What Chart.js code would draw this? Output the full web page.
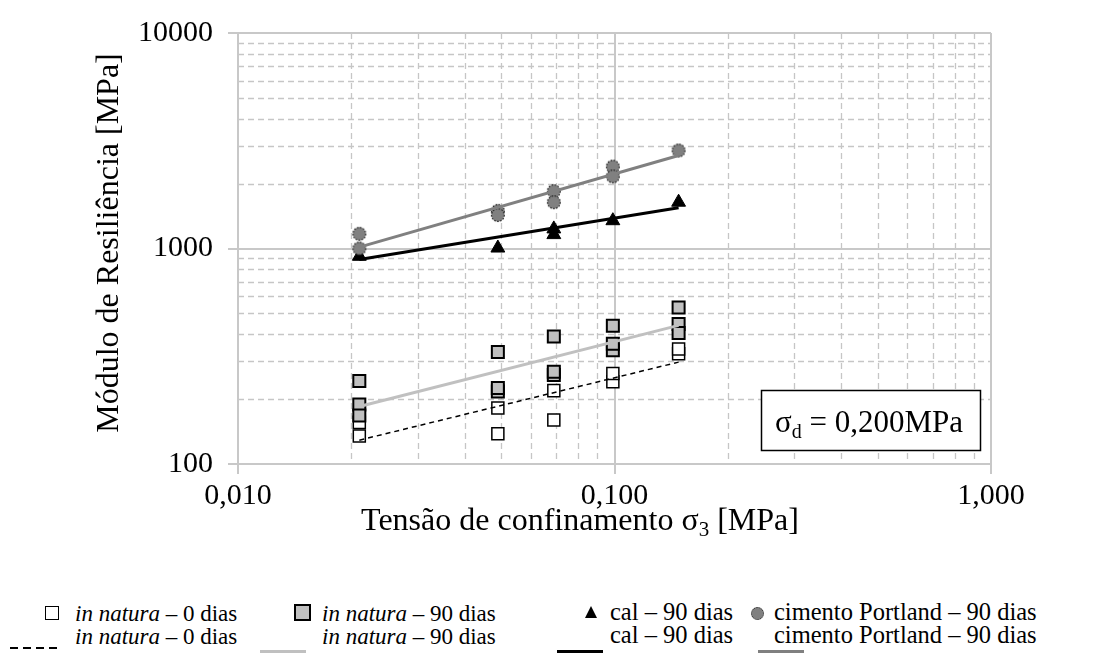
<!DOCTYPE html>
<html><head><meta charset="utf-8">
<script src="https://cdn.jsdelivr.net/npm/chart.js@4.4.0/dist/chart.umd.min.js"></script>
<style>
html,body{margin:0;padding:0;background:#fff;}
#wrap{position:relative;width:1106px;height:653px;overflow:hidden;font-family:"Liberation Serif","Times New Roman",serif;background:#fff;}
#c{position:absolute;left:0;top:0;}
.lt{position:absolute;font-size:23px;line-height:23px;white-space:nowrap;color:#000;}
.lt2{position:absolute;font-size:24.5px;line-height:24.5px;white-space:nowrap;color:#000;}
.mk{position:absolute;box-sizing:border-box;}
</style></head>
<body>
<div id="wrap">
<canvas id="c" width="1106" height="580"></canvas>
<!-- legend row 1 -->
<div class="mk" style="left:45px;top:606px;width:14px;height:14px;border:1.5px solid #000;background:#fff;"></div>
<div class="lt" style="left:75px;top:602px;"><i>in natura</i> – 0 dias</div>
<div class="mk" style="left:294px;top:604px;width:17px;height:17px;border:2px solid #000;background:#c0c0c0;"></div>
<div class="lt" style="left:322px;top:602px;"><i>in natura</i> – 90 dias</div>
<div class="mk" style="left:585px;top:606px;width:0;height:0;border-left:6.5px solid transparent;border-right:6.5px solid transparent;border-bottom:12px solid #000;"></div>
<div class="lt2" style="left:610px;top:600px;">cal – 90 dias</div>
<div class="mk" style="left:751px;top:607px;width:13px;height:13px;border-radius:50%;border:1px dotted #222;background:#808080;"></div>
<div class="lt2" style="left:774px;top:600px;">cimento Portland – 90 dias</div>
<!-- legend row 2 -->
<div class="mk" style="left:10px;top:647px;width:49px;height:1.5px;background:repeating-linear-gradient(to right,#000 0 8px,transparent 8px 13px);"></div>
<div class="lt" style="left:75px;top:625px;"><i>in natura</i> – 0 dias</div>
<div class="mk" style="left:260px;top:650px;width:46px;height:6px;background:#c0c0c0;"></div>
<div class="lt" style="left:322px;top:625px;"><i>in natura</i> – 90 dias</div>
<div class="mk" style="left:557px;top:650px;width:46px;height:6px;background:#000;"></div>
<div class="lt2" style="left:610px;top:623px;">cal – 90 dias</div>
<div class="mk" style="left:758px;top:650px;width:46px;height:6px;background:#808080;"></div>
<div class="lt2" style="left:774px;top:623px;">cimento Portland – 90 dias</div>
</div>
<script>
// ---- data ----
const natura0X = [0.021, 0.021, 0.049, 0.049, 0.069, 0.069, 0.099, 0.099, 0.148, 0.148];
const natura0Y = [135, 156, 138, 182, 160, 219, 241, 263, 325, 342];

const natura90X = [0.021, 0.021, 0.021, 0.049, 0.049, 0.049, 0.069, 0.069, 0.069, 0.099, 0.099, 0.099, 0.148, 0.148, 0.148];
const natura90Y = [243, 189, 168, 331, 217, 225, 391, 259, 268, 438, 337, 361, 533, 446, 405];

const calX = [0.021, 0.049, 0.069, 0.069, 0.099, 0.148];
const calY = [920, 1005, 1233, 1160, 1346, 1640];

const cimentoX = [0.021, 0.021, 0.049, 0.049, 0.069, 0.069, 0.099, 0.099, 0.148];
const cimentoY = [1170, 1000, 1495, 1430, 1845, 1640, 2400, 2160, 2850];

// trend lines (end points)
const trendX = [0.021, 0.148];
const natura0Trend = [129, 297];
const natura90Trend = [185, 440];
const calTrend = [890, 1545];
const cimentoTrend = [1015, 2700];

// ticks
const xMajor = [0.01, 0.1, 1];
const xTickLabels = ['0,010', '0,100', '1,000'];
const yMajor = [100, 1000, 10000];
const yTickLabels = ['100', '1000', '10000'];

const FONT = '"Liberation Serif", "Times New Roman", serif';
const pts = (xs, ys) => xs.map((x, i) => ({x: x, y: ys[i]}));

function minorsOf(majors) {
  const out = [];
  for (let i = 0; i < majors.length - 1; i++) for (let k = 2; k <= 9; k++) out.push(majors[i] * k);
  return out;
}

// dotted-outline circle marker for the cement series
const circleMarker = (() => {
  const c = document.createElement('canvas');
  c.width = 16; c.height = 16;
  const g = c.getContext('2d');
  g.beginPath(); g.arc(8, 8, 6.4, 0, Math.PI * 2);
  g.fillStyle = '#808080'; g.fill();
  g.setLineDash([1.6, 1.4]); g.lineWidth = 1.1; g.strokeStyle = '#1a1a1a'; g.stroke();
  return c;
})();

const gridPlugin = {
  id: 'customGrid',
  beforeDatasetsDraw(chart) {
    const {ctx, chartArea: a, scales} = chart;
    const x = scales.x, y = scales.y;
    ctx.save();
    ctx.strokeStyle = '#c6c6c6';
    ctx.lineWidth = 1.3;
    ctx.setLineDash([6, 4]);
    for (const v of minorsOf(xMajor)) {
      const px = Math.round(x.getPixelForValue(v)) + 0.5;
      ctx.beginPath(); ctx.moveTo(px, a.top); ctx.lineTo(px, a.bottom); ctx.stroke();
    }
    for (const v of minorsOf(yMajor)) {
      const py = Math.round(y.getPixelForValue(v)) + 0.5;
      ctx.beginPath(); ctx.moveTo(a.left, py); ctx.lineTo(a.right, py); ctx.stroke();
    }
    ctx.setLineDash([]);
    ctx.strokeStyle = '#c8c8c8';
    ctx.lineWidth = 2;
    for (const v of xMajor) {
      const px = Math.round(x.getPixelForValue(v));
      ctx.beginPath(); ctx.moveTo(px, a.top); ctx.lineTo(px, a.bottom); ctx.stroke();
    }
    for (const v of yMajor) {
      const py = Math.round(y.getPixelForValue(v));
      ctx.beginPath(); ctx.moveTo(a.left, py); ctx.lineTo(a.right, py); ctx.stroke();
    }
    ctx.restore();
  },
  afterDraw(chart) {
    const {ctx} = chart;
    ctx.save();
    ctx.fillStyle = '#000';
    // y title
    ctx.font = '32px ' + FONT;
    ctx.translate(110, 243);
    ctx.rotate(-Math.PI / 2);
    ctx.textAlign = 'center';
    ctx.textBaseline = 'middle';
    ctx.fillText('Módulo de Resiliência [MPa]', 0, 0);
    ctx.setTransform(1, 0, 0, 1, 0, 0);
    // x title with subscript
    ctx.textAlign = 'left';
    ctx.textBaseline = 'alphabetic';
    const p1 = 'Tensão de confinamento σ', p2 = '3', p3 = ' [MPa]';
    ctx.font = '32px ' + FONT; const w1 = ctx.measureText(p1).width, w3 = ctx.measureText(p3).width;
    ctx.font = '21px ' + FONT; const w2 = ctx.measureText(p2).width;
    let sx = 580 - (w1 + w2 + w3) / 2;
    const by = 530;
    ctx.font = '32px ' + FONT; ctx.fillText(p1, sx, by); sx += w1;
    ctx.font = '21px ' + FONT; ctx.fillText(p2, sx, by + 6); sx += w2;
    ctx.font = '32px ' + FONT; ctx.fillText(p3, sx, by);
    // annotation box
    ctx.fillStyle = '#fff';
    ctx.fillRect(761, 390, 220, 61);
    ctx.strokeStyle = '#000';
    ctx.lineWidth = 1.5;
    ctx.strokeRect(761.5, 390.5, 219, 60);
    ctx.fillStyle = '#000';
    let ax = 775; const ay = 432;
    ctx.font = '31px ' + FONT; ctx.fillText('σ', ax, ay); ax += ctx.measureText('σ').width;
    ctx.font = '20px ' + FONT; ctx.fillText('d', ax, ay + 6); ax += ctx.measureText('d').width;
    ctx.font = '31px ' + FONT; ctx.fillText(' = 0,200MPa', ax, ay);
    ctx.restore();
  }
};

const ctx = document.getElementById('c').getContext('2d');
new Chart(ctx, {
  type: 'scatter',
  data: {
    datasets: [
      {label: 'in natura – 0 dias (tendência)', data: pts(trendX, natura0Trend), showLine: true, borderColor: '#000', borderWidth: 1.5, borderDash: [5, 4], pointRadius: 0, fill: false, order: 0},
      {label: 'in natura – 90 dias (tendência)', data: pts(trendX, natura90Trend), showLine: true, borderColor: '#c0c0c0', borderWidth: 3, pointRadius: 0, fill: false, order: 0},
      {label: 'cal – 90 dias (tendência)', data: pts(trendX, calTrend), showLine: true, borderColor: '#000', borderWidth: 3, pointRadius: 0, fill: false, order: 0},
      {label: 'cimento Portland – 90 dias (tendência)', data: pts(trendX, cimentoTrend), showLine: true, borderColor: '#808080', borderWidth: 3, pointRadius: 0, fill: false, order: 0},
      {label: 'cimento Portland – 90 dias', data: pts(cimentoX, cimentoY), pointStyle: circleMarker, pointRadius: 6.5, backgroundColor: '#808080', borderColor: '#333', borderWidth: 1, order: 1},
      {label: 'cal – 90 dias', data: pts(calX, calY), pointStyle: 'triangle', pointRadius: 8, backgroundColor: '#000', borderColor: '#000', borderWidth: 1, order: 1},
      {label: 'in natura – 90 dias', data: pts(natura90X, natura90Y), pointStyle: 'rect', pointRadius: 8.5, backgroundColor: '#c0c0c0', borderColor: '#000', borderWidth: 2, order: 2},
      {label: 'in natura – 0 dias', data: pts(natura0X, natura0Y), pointStyle: 'rect', pointRadius: 8.5, backgroundColor: '#fff', borderColor: '#000', borderWidth: 1.5, order: 3}
    ]
  },
  options: {
    responsive: false,
    animation: false,
    devicePixelRatio: 1,
    layout: {padding: {top: 26, right: 115, left: 0, bottom: 0}},
    plugins: {legend: {display: false}, tooltip: {enabled: false}},
    elements: {line: {tension: 0}},
    scales: {
      x: {
        type: 'logarithmic', min: 0.01, max: 1,
        afterBuildTicks: s => { s.ticks = xMajor.map(v => ({value: v, major: true})); },
        afterFit: s => { s.height = 116; },
        ticks: {font: {family: FONT, size: 30}, color: '#000', padding: 4, maxRotation: 0, autoSkip: false,
          callback: (v, i) => xTickLabels[i]},
        grid: {drawOnChartArea: false, drawTicks: true, tickLength: 10, color: '#c8c8c8', lineWidth: 2},
        border: {display: false}
      },
      y: {
        type: 'logarithmic', min: 100, max: 10000,
        afterBuildTicks: s => { s.ticks = yMajor.map(v => ({value: v, major: true})); },
        afterFit: s => { s.width = 238; },
        ticks: {font: {family: FONT, size: 30}, color: '#000', padding: 15, autoSkip: false,
          callback: (v, i) => yTickLabels[i]},
        grid: {drawOnChartArea: false, drawTicks: true, tickLength: 10, color: '#c8c8c8', lineWidth: 2},
        border: {display: false}
      }
    }
  },
  plugins: [gridPlugin]
});
</script>
</body></html>
